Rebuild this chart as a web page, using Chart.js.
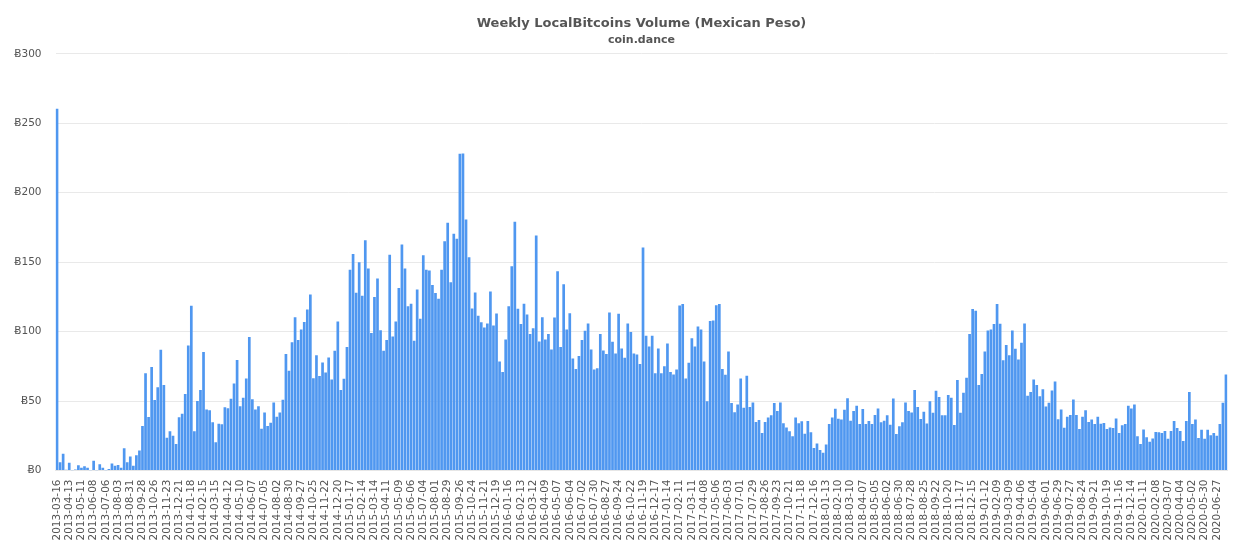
<!DOCTYPE html>
<html>
<head>
<meta charset="utf-8">
<title>Weekly LocalBitcoins Volume (Mexican Peso)</title>
<script src="https://cdn.jsdelivr.net/npm/chart.js@4"></script>
<style>
    html, body { margin: 0; padding: 0; background: #fff; }
    #wrap { width: 1242px; height: 550px; }
</style>
</head>
<body>
<div id="wrap"><canvas id="chart" width="1242" height="550"></canvas></div>
<script>
const chartTitle = 'Weekly LocalBitcoins Volume (Mexican Peso)';
const chartSubtitle = 'coin.dance';
const currency = 'Ƀ';
const yTicks = [0, 50, 100, 150, 200, 250, 300];

// one label every 4 weeks, as on the original axis
const tickLabels = [
    '2013-03-16','2013-04-13','2013-05-11','2013-06-08','2013-07-06','2013-08-03','2013-08-31','2013-09-28','2013-10-26','2013-11-23','2013-12-21',
    '2014-01-18','2014-02-15','2014-03-15','2014-04-12','2014-05-10','2014-06-07','2014-07-05','2014-08-02','2014-08-30','2014-09-27','2014-10-25','2014-11-22','2014-12-20',
    '2015-01-17','2015-02-14','2015-03-14','2015-04-11','2015-05-09','2015-06-06','2015-07-04','2015-08-01','2015-08-29','2015-09-26','2015-10-24','2015-11-21','2015-12-19',
    '2016-01-16','2016-02-13','2016-03-12','2016-04-09','2016-05-07','2016-06-04','2016-07-02','2016-07-30','2016-08-27','2016-09-24','2016-10-22','2016-11-19','2016-12-17',
    '2017-01-14','2017-02-11','2017-03-11','2017-04-08','2017-05-06','2017-06-03','2017-07-01','2017-07-29','2017-08-26','2017-09-23','2017-10-21','2017-11-18','2017-12-16',
    '2018-01-13','2018-02-10','2018-03-10','2018-04-07','2018-05-05','2018-06-02','2018-06-30','2018-07-28','2018-08-25','2018-09-22','2018-10-20','2018-11-17','2018-12-15',
    '2019-01-12','2019-02-09','2019-03-09','2019-04-06','2019-05-04','2019-06-01','2019-06-29','2019-07-27','2019-08-24','2019-09-21','2019-10-19','2019-11-16','2019-12-14',
    '2020-01-11','2020-02-08','2020-03-07','2020-04-04','2020-05-02','2020-05-30','2020-06-27'
];

// weekly volume
const volumes = [
    260.5,6,12,0.5,5.5,0.2,0.8,3.8,2,3,2,0.2,7,0.2,4.5,2,0.2,1,5,3.5,
    4,2,16,6,10,3.5,11,14.4,32,70,38.6,74.5,50.8,60,87,61.6,23.5,28.3,25,19,
    38.4,40.8,55,90,118.7,28.3,50,58,85.4,44,43.4,34.8,20.4,33.6,33.3,45.6,44.8,51.6,62.6,79.6,
    46.3,52.3,66.2,96.2,51.3,44,46.3,30,41.7,32,34.4,49,38.7,41.8,51,83.8,71.8,92.4,110.4,94,
    101.6,107,116,126.7,66.5,83,68,77.8,70.6,81.4,65.6,86.2,107.3,58,66,88.9,144.5,155.8,128,150,
    125.8,165.8,145.4,99,125,138.2,101,86.2,94,155.3,96.5,107.3,131.3,162.7,145.4,118.3,120,93.4,130.3,109.2,
    155,144.5,144,133.5,127.7,123.6,144.5,165,178.3,135.6,170.4,166.8,228,228.2,180.7,153.6,116.7,128.2,111.4,106.8,
    103,105.9,128.9,104.4,113,78.5,71,94.4,118.2,147,179,116.4,105.4,120,112.3,98.2,102.5,169.2,92.9,110.4,
    94.4,98.2,87.2,110.2,143.5,89,134,101.6,113.3,80.7,73,82.4,93.9,100.6,105.9,87.2,72.8,73.7,98.2,86.4,
    83.8,113.8,92.7,84.3,112.8,87.9,81.2,105.9,99.8,84.2,83.5,76.6,160.6,97,89.3,97,70,87.9,70,75,
    91.5,71,69.2,72.8,118.8,119.8,66.3,77.6,95.3,89.3,103.7,101.6,78.5,49.8,107.6,108,119,119.8,73,69,
    85.7,48.6,42,47.6,66.3,45.2,68.2,45.7,49,34.9,36.3,27,35,38.2,39.7,48.6,42.8,49,34,31,
    28.2,24.6,38.2,34,35.4,26.5,35.6,27.5,16.2,19.5,14.7,12.8,18.8,33.5,38.2,44.5,37.3,36.8,43.8,52,
    35.9,42.8,46.6,33.5,44.3,33.5,35.7,33.5,39.9,44.7,34.7,35.9,39.7,33,51.9,26.3,31.8,34.7,49,42.8,
    41.8,57.9,45.7,37,42.3,33.9,49.8,41.6,57.4,52.9,39.7,39.7,54.3,52.4,32.7,65.1,41.6,56,66.8,98.2,
    116.2,115,61.5,69.4,85.7,100.8,101.6,105.4,119.8,105.6,79.3,90.3,82.9,100.8,87.7,80,92,105.9,53.8,56.5,
    65.6,61.5,53.4,58.5,46,48.8,57.6,64,36.9,44,30.8,38.7,39.9,51.2,39.9,29.9,38.7,43.3,34.9,36.8,
    33.5,38.7,33.7,34.2,29.9,31,30.6,37.5,27,32.5,33.5,46.6,44.7,47.6,24.6,19,29.6,23.9,20.7,23.1,
    27.7,27.5,27,28.4,22.9,28.4,35.6,30.6,28.4,21.2,35.6,56.5,33.5,36.8,23.4,29.4,22.9,29.4,25.3,27,
    25,33.5,48.8,69.2
];

const weekLabels = volumes.map((v, i) => i % 4 === 0 ? tickLabels[i / 4] : '');

new Chart(document.getElementById('chart'), {
    type: 'bar',
    data: {
        labels: weekLabels,
        datasets: [{
            label: 'Volume',
            data: volumes,
            backgroundColor: '#4f97f0',
            borderWidth: 0,
            barPercentage: 0.88,
            categoryPercentage: 1
        }]
    },
    options: {
        responsive: false,
        animation: false,
        layout: { padding: { top: 0, right: 14.5, bottom: 0, left: 0 } },
        plugins: {
            legend: { display: false },
            title: {
                display: true,
                fullSize: false,
                text: chartTitle,
                color: '#555555',
                font: { family: 'DejaVu Sans', size: 13, weight: 'bold' },
                padding: { top: 16, bottom: 2 }
            },
            subtitle: {
                display: true,
                fullSize: false,
                text: chartSubtitle,
                color: '#555555',
                font: { family: 'DejaVu Sans', size: 11, weight: 'bold' },
                padding: { top: 0, bottom: 7 }
            }
        },
        scales: {
            x: {
                grid: { display: false },
                border: { color: '#e6e6e6' },
                afterFit: scale => { scale.height = 79.5; },
                ticks: {
                    autoSkip: false,
                    minRotation: 90,
                    maxRotation: 90,
                    padding: 1,
                    color: '#555555',
                    font: { family: 'DejaVu Sans', size: 10.5 }
                }
            },
            y: {
                min: 0,
                max: 300,
                afterFit: scale => { scale.width = 55.5; },
                afterBuildTicks: scale => { scale.ticks = yTicks.map(value => ({ value })); },
                grid: { color: '#e9e9e9', drawTicks: false },
                border: { display: false },
                ticks: {
                    padding: 14,
                    color: '#555555',
                    font: { family: 'DejaVu Sans', size: 10.5 },
                    callback: value => currency + value
                }
            }
        }
    }
});
</script>
</body>
</html>
